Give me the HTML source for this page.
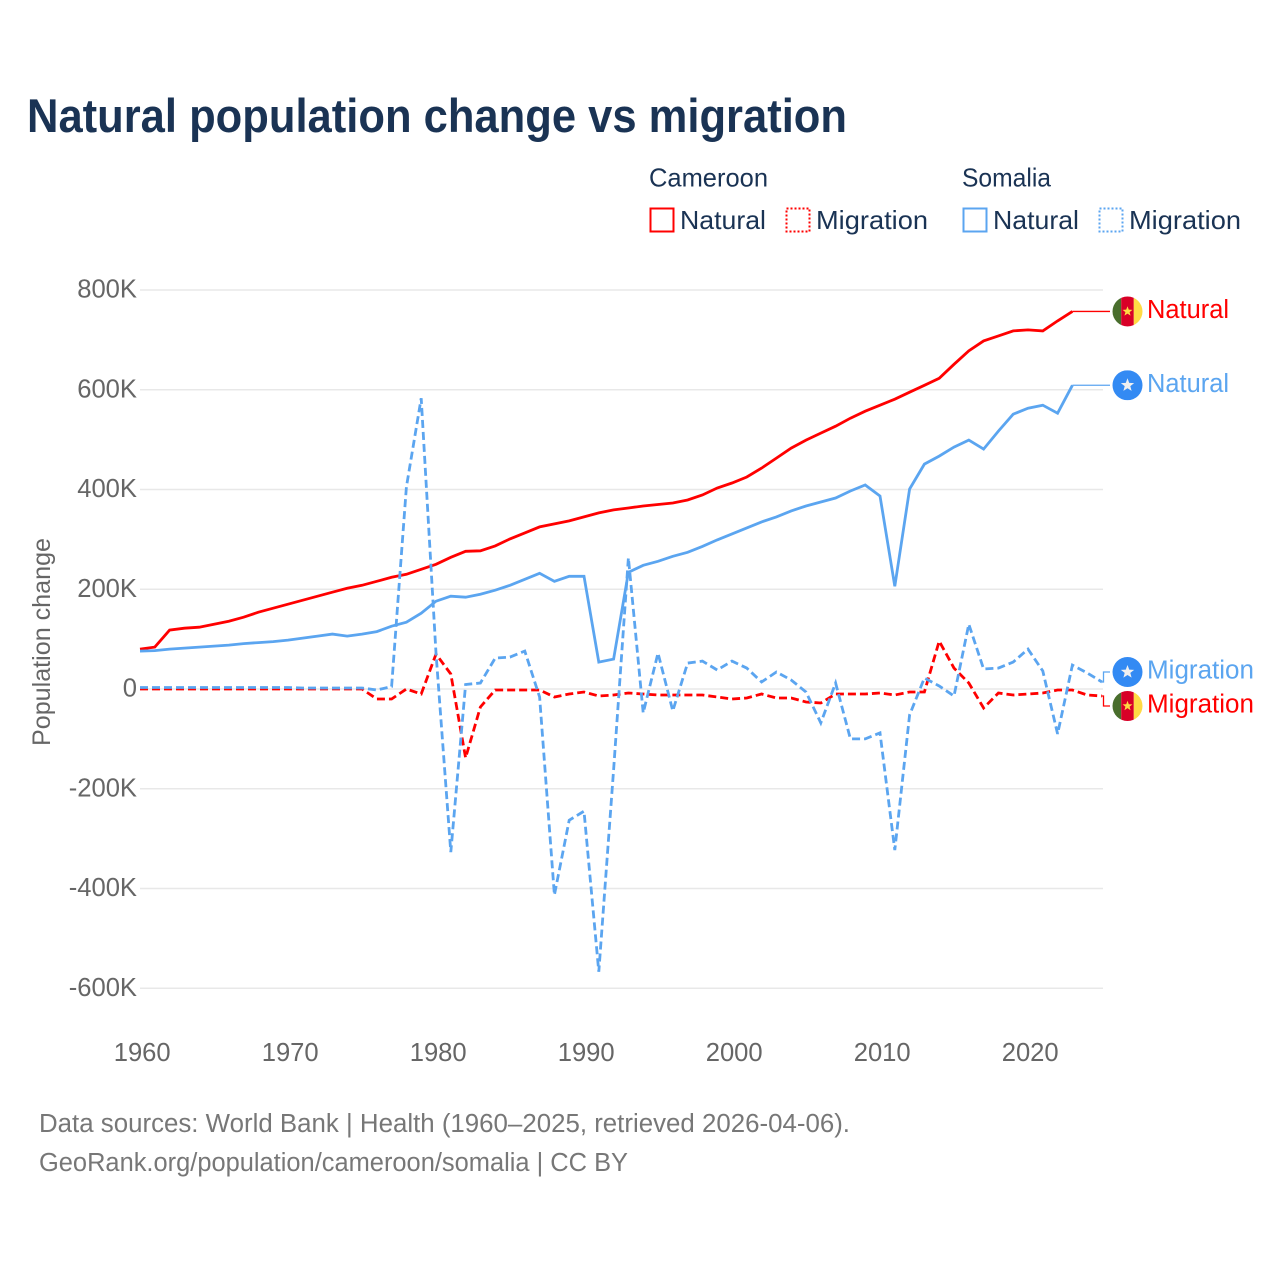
<!DOCTYPE html>
<html lang="en">
<head>
<meta charset="utf-8">
<title>Natural population change vs migration</title>
<style>
html,body{margin:0;padding:0;background:#fff}
svg{display:block;font-family:"Liberation Sans",sans-serif}
</style>
</head>
<body>
<svg id="chart" xmlns="http://www.w3.org/2000/svg" width="1280" height="1280" viewBox="0 0 1280 1280">
<rect x="0" y="0" width="1280" height="1280" fill="#fff"/>
<text x="27" y="132" font-size="47" font-weight="700" fill="#1a3354" textLength="820" lengthAdjust="spacingAndGlyphs">Natural population change vs migration</text>

<g font-size="26" fill="#1a3354">
<text x="649" y="186.5" textLength="119" lengthAdjust="spacingAndGlyphs">Cameroon</text>
<text x="962" y="186.5" textLength="89" lengthAdjust="spacingAndGlyphs">Somalia</text>
<g>
<rect x="650.5" y="208.5" width="23" height="23" fill="none" stroke="#ff0000" stroke-width="2"/>
<text x="680" y="229" textLength="86" lengthAdjust="spacingAndGlyphs">Natural</text>
</g>
<g>
<rect x="786.5" y="208.5" width="23" height="23" fill="none" stroke="#ff0000" stroke-width="2" stroke-dasharray="2 2"/>
<text x="816" y="229" textLength="112" lengthAdjust="spacingAndGlyphs">Migration</text>
</g>
<g>
<rect x="963.5" y="208.5" width="23" height="23" fill="none" stroke="#5ba5f0" stroke-width="2"/>
<text x="993" y="229" textLength="86" lengthAdjust="spacingAndGlyphs">Natural</text>
</g>
<g>
<rect x="1099.5" y="208.5" width="23" height="23" fill="none" stroke="#5ba5f0" stroke-width="2" stroke-dasharray="2 2"/>
<text x="1129" y="229" textLength="112" lengthAdjust="spacingAndGlyphs">Migration</text>
</g>
</g>

<g id="grid"></g>
<g id="yticks"></g>
<g id="xticks"></g>
<text transform="translate(50,642) rotate(-90)" text-anchor="middle" font-size="25" fill="#666" textLength="208" lengthAdjust="spacingAndGlyphs">Population change</text>
<g id="series"></g>
<g id="labels"></g>

<g font-size="25.5" fill="#777">
<text x="39" y="1132" textLength="811" lengthAdjust="spacingAndGlyphs">Data sources: World Bank | Health (1960–2025, retrieved 2026-04-06).</text>
<text x="39" y="1171" textLength="589" lengthAdjust="spacingAndGlyphs">GeoRank.org/population/cameroon/somalia | CC BY</text>
</g>
</svg>
<script>
const startYear = 1960;
const xTickYears = [1960, 1970, 1980, 1990, 2000, 2010, 2020];
const yTickValues = [800, 600, 400, 200, 0, -200, -400, -600];
const yTickLabels = ["800K", "600K", "400K", "200K", "0", "-200K", "-400K", "-600K"];

const cameroonNatural = [80,84,118,122,124,130,136,144,154,162,170,178,186,194,202,208,216,224,230,240,250,264,276,277,287,301,313,325,331,337,345,353,359,363,367,370,373,379,389,403,413,425,443,463,483,499,513,527,543,557,569,581,595,609,623,651,678,698,708,718,720,718,738,757];
const somaliaNatural = [76,77,80,82,84,86,88,91,93,95,98,102,106,110,106,110,115,126,134,152,176,186,184,190,198,208,220,232,216,226,226,54,60,234,248,256,266,274,286,299,311,323,335,345,357,367,375,383,397,409,387,206,401,451,467,485,499,481,517,551,563,569,553,609];
const cameroonMigration = [0,0,0,0,0,0,0,0,0,0,0,0,0,0,0,0,-20,-20,0,-10,70,30,-138,-36,-2,-2,-2,-2,-16,-10,-6,-14,-12,-8,-10,-12,-12,-12,-12,-16,-20,-18,-10,-18,-18,-26,-28,-10,-10,-10,-8,-12,-6,-6,96,42,12,-38,-8,-12,-10,-8,-2,-2,-12,-14];
const somaliaMigration = [3,3,3,3,3,3,3,3,3,3,3,2,2,2,2,2,-2,5,405,583,72,-327,9,12,62,64,76,-16,-413,-263,-245,-567,-162,263,-48,72,-44,52,56,38,56,42,14,34,18,-6,-68,12,-100,-100,-88,-323,-52,22,6,-14,130,40,42,54,80,36,-90,48,32,14];

const RED = "#ff0000";
const BLUE = "#5ba5f0";
const NS = "http://www.w3.org/2000/svg";

function xScale(year) { return 140 + (year - startYear) * 14.8; }
function yScale(k) { return 689 - k * 0.49875; }
function mk(tag, parent) {
  const el = document.createElementNS(NS, tag);
  parent.appendChild(el);
  return el;
}

const gridG = document.getElementById("grid");
const yG = document.getElementById("yticks");
yTickValues.forEach(function (v, i) {
  const line = mk("line", gridG);
  
  
  line.setAttribute("x1", 140);
  line.setAttribute("x2", 1103);
  line.setAttribute("y1", yScale(v));
  line.setAttribute("y2", yScale(v));
  line.setAttribute("stroke", "#e8e8e8");
  line.setAttribute("stroke-width", "1.4");
  const t = mk("text", yG);
  
  
  t.setAttribute("x", 137);
  t.setAttribute("y", yScale(v) + 7.5);
  t.setAttribute("text-anchor", "end");
  t.setAttribute("font-size", "25.6");
  t.setAttribute("fill", "#666");
  t.textContent = yTickLabels[i];
});

const xG = document.getElementById("xticks");
xTickYears.forEach(function (yr) {
  const t = mk("text", xG);
  
  
  t.setAttribute("x", xScale(yr) + 2.2);
  t.setAttribute("y", 1061);
  t.setAttribute("text-anchor", "middle");
  t.setAttribute("font-size", "25.6");
  t.setAttribute("fill", "#666");
  t.textContent = String(yr);
});

const seriesList = [
  { key: "cameroon-natural", values: cameroonNatural, color: RED, dash: null },
  { key: "cameroon-migration", values: cameroonMigration, color: RED, dash: "8 4" },
  { key: "somalia-natural", values: somaliaNatural, color: BLUE, dash: null },
  { key: "somalia-migration", values: somaliaMigration, color: BLUE, dash: "8 4" }
];
const seriesG = document.getElementById("series");
seriesList.forEach(function (s) {
  const p = mk("polyline", seriesG);
  
  
  p.setAttribute("points", s.values.map(function (v, i) {
    return xScale(startYear + i).toFixed(1) + "," + yScale(v).toFixed(1);
  }).join(" "));
  p.setAttribute("fill", "none");
  p.setAttribute("stroke", s.color);
  p.setAttribute("stroke-width", "2.8");
  p.setAttribute("stroke-linejoin", "miter");
  if (s.dash) { p.setAttribute("stroke-dasharray", s.dash); }
});

function starPoints(cx, cy, r) {
  const pts = [];
  for (let i = 0; i < 10; i++) {
    const rad = i % 2 === 0 ? r : r * 0.42;
    const a = -Math.PI / 2 + i * Math.PI / 5;
    pts.push((cx + rad * Math.cos(a)).toFixed(2) + "," + (cy + rad * Math.sin(a)).toFixed(2));
  }
  return pts.join(" ");
}

const labelsG = document.getElementById("labels");
const endLabels = [
  { key: "cameroon-natural", country: "cameroon", values: cameroonNatural, color: RED, text: "Natural", width: 82, flagY: null },
  { key: "somalia-natural", country: "somalia", values: somaliaNatural, color: BLUE, text: "Natural", width: 82, flagY: null },
  { key: "somalia-migration", country: "somalia", values: somaliaMigration, color: BLUE, text: "Migration", width: 107, flagY: 672 },
  { key: "cameroon-migration", country: "cameroon", values: cameroonMigration, color: RED, text: "Migration", width: 107, flagY: 706 }
];
endLabels.forEach(function (l, idx) {
  const lastI = l.values.length - 1;
  const lx = xScale(startYear + lastI);
  const ly = yScale(l.values[lastI]);
  const fy = l.flagY === null ? ly : l.flagY;
  const conn = mk("polyline", labelsG);
  
  
  const elbow = Math.min(lx + 1.5, 1110);
  conn.setAttribute("points", lx + "," + ly + " " + elbow + "," + ly + " " + elbow + "," + fy + " 1110," + fy);
  conn.setAttribute("fill", "none");
  conn.setAttribute("stroke", l.color);
  conn.setAttribute("stroke-width", "1.3");

  const clipId = "flag-clip-" + idx;
  const clip = mk("clipPath", labelsG);
  clip.setAttribute("id", clipId);
  const cc = mk("circle", clip);
  cc.setAttribute("cx", 1127.5);
  cc.setAttribute("cy", fy);
  cc.setAttribute("r", 15);

  const flag = mk("g", labelsG);
  
  
  flag.setAttribute("clip-path", "url(#" + clipId + ")");
  if (l.country === "cameroon") {
    [["#496e2d", 1112.5, 8.7], ["#d80027", 1121.2, 12.6], ["#ffda44", 1133.8, 8.7]].forEach(function (b) {
      const r = mk("rect", flag);
      r.setAttribute("x", b[1]);
      r.setAttribute("y", fy - 15);
      r.setAttribute("width", b[2]);
      r.setAttribute("height", 30);
      r.setAttribute("fill", b[0]);
    });
    const st = mk("polygon", flag);
    st.setAttribute("points", starPoints(1127.5, fy, 5.2));
    st.setAttribute("fill", "#ffda44");
  } else {
    const r = mk("rect", flag);
    r.setAttribute("x", 1112.5);
    r.setAttribute("y", fy - 15);
    r.setAttribute("width", 30);
    r.setAttribute("height", 30);
    r.setAttribute("fill", "#338af3");
    const st = mk("polygon", flag);
    st.setAttribute("points", starPoints(1127.5, fy, 7));
    st.setAttribute("fill", "#f0f0f0");
  }

  const t = mk("text", labelsG);
  
  
  t.setAttribute("x", 1147);
  t.setAttribute("y", fy + 6.5);
  t.setAttribute("font-size", "25.5");
  t.setAttribute("fill", l.color);
  t.setAttribute("textLength", l.width);
  t.setAttribute("lengthAdjust", "spacingAndGlyphs");
  t.textContent = l.text;
});
</script>
</body>
</html>
